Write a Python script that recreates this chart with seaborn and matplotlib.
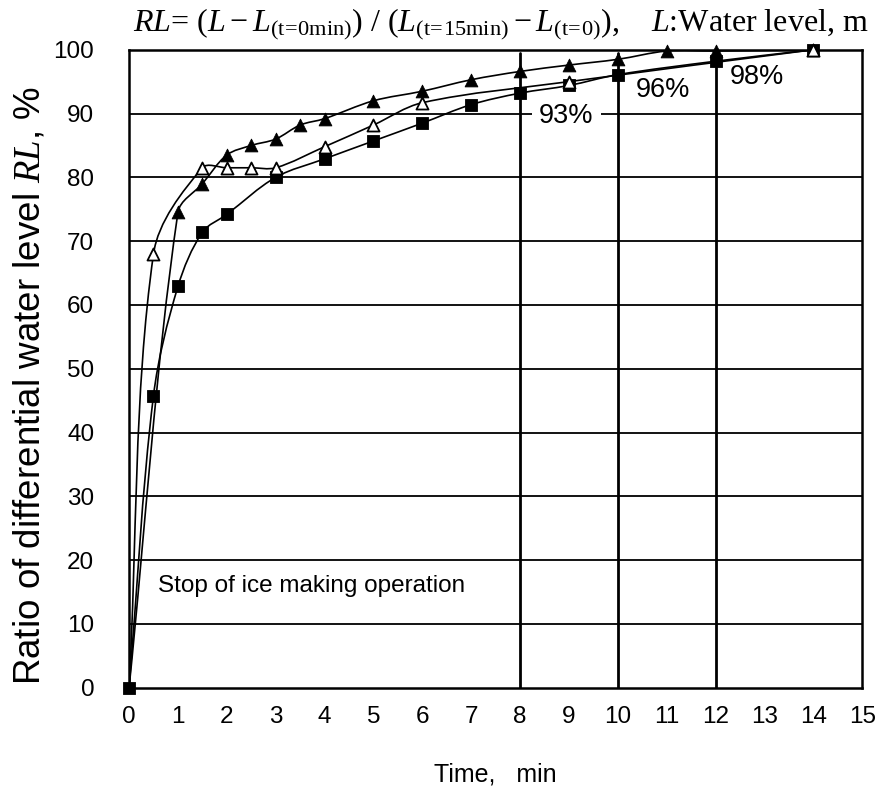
import numpy as np
import pandas as pd
import matplotlib
matplotlib.use("Agg")
import matplotlib.pyplot as plt
from matplotlib.path import Path
from matplotlib.patches import PathPatch
import seaborn as sns

# Elapsed time after stopping ice making (min) and ratio RL (%) per run
time_a = [0, 1, 1.5, 2, 2.5, 3, 3.5, 4, 5, 6, 7, 8, 9, 10, 11, 12, 14]
rl_a = [0, 74.5, 79, 83.5, 85, 86, 88.2, 89.2, 92, 93.5, 95.3, 96.6, 97.6, 98.5, 99.8, 99.8, 100]

time_b = [0, 0.5, 1.5, 2, 2.5, 3, 4, 5, 6, 9, 14]
rl_b = [0, 68, 81.5, 81.5, 81.5, 81.5, 84.8, 88.2, 91.7, 95, 100]

time_c = [0, 0.5, 1, 1.5, 2, 3, 4, 5, 6, 7, 8, 9, 10, 12, 14]
rl_c = [0, 45.8, 62.9, 71.4, 74.2, 80, 82.9, 85.7, 88.5, 91.4, 93.2, 94.4, 96.1, 98.2, 100]

# Reference times and the percentages reached there
mark_times = [8, 10, 12]
mark_labels = ["93%", "96%", "98%"]
mark_label_pos = [(8.95, 89.6), (10.92, 93.7), (12.85, 95.7)]

sns.set_theme(style="white")
plt.rcParams["font.family"] = ["Liberation Sans", "DejaVu Sans"]
plt.rcParams["text.color"] = "black"
plt.rcParams["axes.labelcolor"] = "black"
plt.rcParams["mathtext.fontset"] = "custom"
plt.rcParams["mathtext.rm"] = "Liberation Serif"
plt.rcParams["mathtext.it"] = "Liberation Serif:italic"

fig = plt.figure(figsize=(8.87, 7.96), dpi=100)
ax = fig.add_axes([0.1455, 0.136, 0.8265, 0.8015])

# approximate pixel scale of one unit on each axis, used for chord lengths
SX, SY = 48.9, 6.38


def smooth_path(xs, ys):
    """Cubic Bezier path through the points with chord-weighted tangents."""
    p = np.column_stack([xs, ys]).astype(float)
    n = len(p)

    def dist(a, b):
        return np.hypot((a[0] - b[0]) * SX, (a[1] - b[1]) * SY)

    verts = [p[0]]
    codes = [Path.MOVETO]
    for i in range(n - 1):
        p0 = p[i - 1] if i > 0 else p[i]
        p1 = p[i]
        p2 = p[i + 1]
        p3 = p[i + 2] if i + 2 < n else p[i + 1]
        d01, d12, d23 = dist(p0, p1), dist(p1, p2), dist(p2, p3)
        w1 = d12 / (d01 + d12) if d01 + d12 > 0 else 0.5
        w2 = d12 / (d12 + d23) if d12 + d23 > 0 else 0.5
        c1 = p1 + (p2 - p0) * w1 / 3.0
        c2 = p2 - (p3 - p1) * w2 / 3.0
        verts += [c1, c2, p2]
        codes += [Path.CURVE4] * 3
    return Path(verts, codes)


for xs, ys in [(time_c, rl_c), (time_b, rl_b), (time_a, rl_a)]:
    ax.add_patch(PathPatch(smooth_path(xs, ys), facecolor="none",
                           edgecolor="black", lw=1.2, zorder=3))

df_a = pd.DataFrame({"t": time_a, "rl": rl_a})
df_b = pd.DataFrame({"t": time_b, "rl": rl_b})
df_c = pd.DataFrame({"t": time_c, "rl": rl_c})

# the common starting point is shown by the square marker only
sns.scatterplot(data=df_c, x="t", y="rl", marker="s", s=80, color="black",
                edgecolor="black", linewidth=0.6, ax=ax, zorder=4, clip_on=False)
sns.scatterplot(data=df_a.iloc[1:], x="t", y="rl", marker="^", s=85, color="black",
                edgecolor="black", linewidth=0.6, ax=ax, zorder=5, clip_on=False)
sns.scatterplot(data=df_b.iloc[1:], x="t", y="rl", marker="^", s=75, color="white",
                edgecolor="black", linewidth=1.3, ax=ax, zorder=6, clip_on=False)

# Horizontal grid
for yv in range(10, 100, 10):
    ax.axhline(yv, color="black", lw=1.3, zorder=1)

# Vertical reference lines and percentages
for xv in mark_times:
    ax.plot([xv, xv], [0, 99.5], color="black", lw=2.0, zorder=2)
for lab, (xp, yp) in zip(mark_labels, mark_label_pos):
    ax.text(xp, yp, lab, fontsize=19.5, ha="center", va="center", zorder=2.5,
            bbox=dict(facecolor="white", edgecolor="none", pad=5))

ax.text(0.6, 16, "Stop of ice making operation", fontsize=17.5,
        ha="left", va="center")

ax.set_xlim(0, 15)
ax.set_ylim(0, 100)
ax.set_xticks(range(0, 16))
ax.set_yticks(range(0, 101, 10))
ax.tick_params(axis="both", direction="in", length=7, width=1.3,
               labelsize=17.5, colors="black", pad=13)
ax.tick_params(axis="y", length=0, pad=25)
for sp in ax.spines.values():
    sp.set_color("black")
    sp.set_linewidth(1.8)

ax.set_xlabel("Time,   min", fontsize=18, labelpad=25)
ax.set_ylabel(r"Ratio of differential water level $\mathit{RL}$, %",
              fontsize=26.5)
ax.yaxis.set_label_coords(-0.111, 0.473)

title = (r"$RL$= ($L - L_{\rm (t\!=\!0min)}$) $/$ ($L_{\rm (t\!=\!15min)} - L_{\rm (t\!=\!0)}$),"
         r"    $L$:Water level, m")
fig.text(0.565, 0.969, title, fontsize=23, ha="center", va="center",
         family="Liberation Serif")

fig.savefig("out.png", dpi=100)
